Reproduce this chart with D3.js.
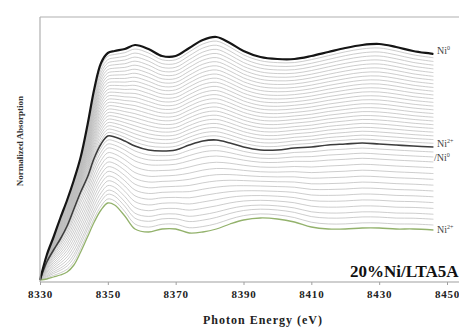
<!DOCTYPE html>
<html>
<head>
<meta charset="utf-8">
<script src="https://cdn.jsdelivr.net/npm/d3@7"></script>
<style>
  body { margin: 0; background: #fff; }
  svg { display: block; }
</style>
</head>
<body>
<script>
// energy grid (eV) shared by all scans
var energy = [8330, 8332, 8334, 8336, 8338, 8340, 8342, 8344, 8346, 8348, 8350, 8352, 8355, 8358, 8362, 8366, 8370,
              8374, 8378, 8382, 8386, 8390, 8395, 8400, 8405, 8410, 8415, 8420, 8425, 8430, 8435, 8440, 8446];

// first scan (Ni2+), stacked at the bottom
var scanFirst = [0.02, 0.03, 0.05, 0.07, 0.10, 0.17, 0.30, 0.45, 0.60, 0.72, 0.79, 0.77, 0.66, 0.53, 0.50, 0.53, 0.53,
                 0.49, 0.50, 0.53, 0.58, 0.62, 0.64, 0.63, 0.60, 0.55, 0.53, 0.53, 0.54, 0.54, 0.53, 0.53, 0.52];
// intermediate scan (Ni2+/Ni0)
var scanMid = [0.02, 0.20, 0.32, 0.43, 0.56, 0.73, 0.90, 1.05, 1.24, 1.38, 1.46, 1.45, 1.41, 1.36, 1.32, 1.31, 1.32,
               1.37, 1.41, 1.42, 1.39, 1.35, 1.32, 1.32, 1.34, 1.35, 1.37, 1.38, 1.39, 1.38, 1.37, 1.36, 1.35];
// last scan (Ni0), stacked at the top
var scanLast = [0.02, 0.27, 0.45, 0.64, 0.82, 1.02, 1.25, 1.57, 1.93, 2.19, 2.29, 2.31, 2.33, 2.37, 2.33, 2.26, 2.26,
                2.34, 2.42, 2.45, 2.39, 2.31, 2.25, 2.23, 2.23, 2.26, 2.30, 2.34, 2.37, 2.38, 2.35, 2.31, 2.28];

// position of the grey scans between the highlighted ones (0 = lower one, 1 = upper one)
var lowerScans = [0.06, 0.13, 0.19, 0.26, 0.33, 0.40, 0.47, 0.54, 0.61, 0.68, 0.75, 0.82, 0.88, 0.94];
var upperScans = [0.04, 0.08, 0.12, 0.16, 0.20, 0.24, 0.28, 0.32, 0.36, 0.40, 0.44, 0.48, 0.52, 0.56,
                  0.60, 0.64, 0.68, 0.72, 0.76, 0.80, 0.84, 0.88, 0.92, 0.96];

var xTicks = [8330, 8350, 8370, 8390, 8410, 8430, 8450];

var width = 459,
    height = 328;

var svg = d3.select("body")
    .append("svg")
    .attr("width", width)
    .attr("height", height);

var x = d3.scaleLinear().domain([8330, 8450]).range([40, 447]);
var y = d3.scaleLinear().domain([0, 2.65]).range([282, 17]);

var line = d3.line()
    .x(function(d) { return x(d[0]); })
    .y(function(d) { return y(d[1]); })
    .curve(d3.curveCatmullRom.alpha(0.5));

function mix(a, b, t) {
    return energy.map(function(e, i) { return [e, a[i] + (b[i] - a[i]) * t]; });
}

//grey scans
var greys = lowerScans.map(function(t) { return mix(scanFirst, scanMid, t); })
    .concat(upperScans.map(function(t) { return mix(scanMid, scanLast, t); }));

svg.selectAll(".scan")
    .data(greys)
    .enter()
    .append("path")
    .attr("class", "scan")
    .attr("d", line)
    .attr("fill", "none")
    .attr("stroke", "#b8b8b8")
    .attr("stroke-width", 0.7);

//highlighted scans
var highlight = [
    {values: scanFirst, color: "#93b26c", w: 1.3},
    {values: scanMid, color: "#3c3c3c", w: 1.6},
    {values: scanLast, color: "#151515", w: 2.2}
];
highlight.forEach(function(h) {
    svg.append("path")
        .datum(energy.map(function(e, i) { return [e, h.values[i]]; }))
        .attr("d", line)
        .attr("fill", "none")
        .attr("stroke", h.color)
        .attr("stroke-width", h.w);
});

//frame
svg.append("line").attr("x1", 40).attr("x2", width).attr("y1", 17).attr("y2", 17)
    .attr("stroke", "#b0b0b0").attr("stroke-width", 1.2);
svg.append("line").attr("x1", 40).attr("x2", 40).attr("y1", 17).attr("y2", 282)
    .attr("stroke", "#b0b0b0").attr("stroke-width", 1.2);

var xAxis = svg.append("g")
    .attr("transform", "translate(0,282)")
    .call(d3.axisBottom(x).tickValues(xTicks).tickFormat(d3.format("d")).tickSize(3).tickSizeOuter(0));
xAxis.select(".domain").attr("stroke", "#a0a0a0").attr("stroke-width", 1.2).attr("d", "M40,0H" + width);
xAxis.selectAll(".tick line").attr("stroke", "#a0a0a0");
xAxis.selectAll(".tick text")
    .attr("y", 8)
    .attr("font-family", "Liberation Serif, serif")
    .attr("font-weight", "bold")
    .attr("font-size", "11px")
    .attr("letter-spacing", "0.8px")
    .attr("fill", "#222");

svg.append("text")
    .attr("x", 263).attr("y", 324)
    .attr("text-anchor", "middle")
    .attr("font-family", "Liberation Serif, serif")
    .attr("font-weight", "bold")
    .attr("font-size", "12px")
    .attr("letter-spacing", "1px")
    .attr("fill", "#222")
    .text("Photon Energy (eV)");

svg.append("text")
    .attr("transform", "translate(23,141) rotate(-90)")
    .attr("text-anchor", "middle")
    .attr("font-family", "Liberation Serif, serif")
    .attr("font-weight", "bold")
    .attr("font-size", "9px")
    .attr("fill", "#333")
    .text("Normalized Absorption");

svg.append("text")
    .attr("x", 350).attr("y", 277)
    .attr("font-family", "Liberation Serif, serif")
    .attr("font-weight", "bold")
    .attr("font-size", "17px")
    .attr("fill", "#111")
    .text("20%Ni/LTA5A");

//state labels at the right end of the scans
var labels = [
    {pre: "", sup: "0", y: 54},
    {pre: "", sup: "2+", y: 147},
    {pre: "/", sup: "0", y: 161},
    {pre: "", sup: "2+", y: 233}
];
labels.forEach(function(l) {
    var t = svg.append("text")
        .attr("x", l.pre ? 434 : 437).attr("y", l.y)
        .attr("font-family", "Liberation Serif, serif")
        .attr("font-size", "10px")
        .attr("fill", "#444");
    t.append("tspan").text(l.pre + "Ni");
    t.append("tspan").attr("dy", -4).attr("font-size", "6px").text(l.sup);
});
</script>
</body>
</html>
